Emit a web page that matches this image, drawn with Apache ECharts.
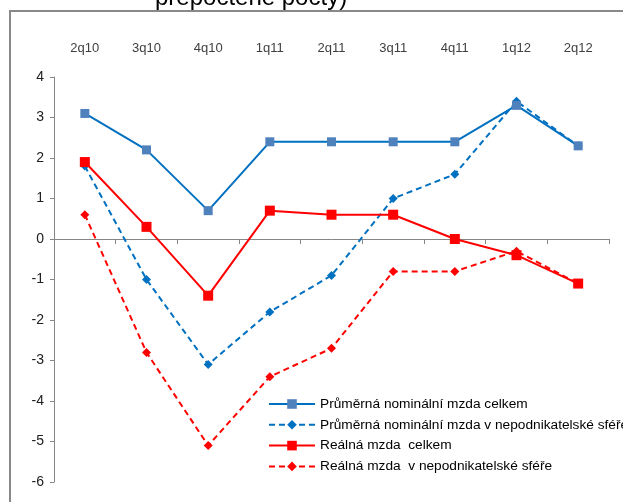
<!DOCTYPE html>
<html>
<head>
<meta charset="utf-8">
<script src="https://cdn.jsdelivr.net/npm/echarts@6/dist/echarts.min.js"></script>
<style>
    html, body { margin: 0; padding: 0; background: #fff; }
    #chart { width: 623px; height: 502px; }
</style>
</head>
<body>
<div id="chart"></div>
<script>
var categories = ['2q10', '3q10', '4q10', '1q11', '2q11', '3q11', '4q11', '1q12', '2q12'];
var nominalTotal = [3.1, 2.2, 0.7, 2.4, 2.4, 2.4, 2.4, 3.3, 2.3];
var nominalPublic = [1.8, -1.0, -3.1, -1.8, -0.9, 1.0, 1.6, 3.4, 2.3];
var realTotal = [1.9, 0.3, -1.4, 0.7, 0.6, 0.6, 0.0, -0.4, -1.1];
var realPublic = [0.6, -2.8, -5.1, -3.4, -2.7, -0.8, -0.8, -0.3, -1.1];
var seriesNames = [
    'Průměrná nominální mzda celkem',
    'Průměrná nominální mzda v nepodnikatelské sféře',
    'Reálná mzda  celkem',
    'Reálná mzda  v nepodnikatelské sféře'
];

var FONT = '"Liberation Sans", Arial, sans-serif';
var BLUE = '#0070C0';
var RED = '#FF0000';

var chart = echarts.init(document.getElementById('chart'));

var option = {
    animation: false,
    backgroundColor: '#fff',
    textStyle: { fontFamily: FONT },
    graphic: [
        {
            type: 'rect',
            shape: { x: 10, y: 11, width: 700, height: 600 },
            style: { fill: 'none', stroke: '#898989', lineWidth: 2 }
        },
        {
            type: 'text',
            x: 155,
            y: -1.5,
            style: {
                text: 'přepočtené počty)',
                font: '24px ' + FONT,
                fill: '#000',
                verticalAlign: 'middle'
            }
        }
    ],
    grid: { left: 54, right: 14, top: 77, bottom: 20, containLabel: false },
    legend: {
        orient: 'vertical',
        left: 263,
        top: 392,
        itemWidth: 46,
        itemHeight: 12,
        itemGap: 6.8,
        textStyle: { fontSize: 13.7, color: '#000', fontFamily: FONT },
        data: seriesNames
    },
    xAxis: [
        {
            type: 'category',
            data: categories,
            boundaryGap: true,
            axisLine: { onZero: true, lineStyle: { color: '#868686', width: 1 } },
            axisTick: { show: true, length: 5, lineStyle: { color: '#868686' } },
            axisLabel: { show: false }
        },
        {
            type: 'category',
            data: categories,
            position: 'top',
            boundaryGap: true,
            axisLine: { show: false },
            axisTick: { show: false },
            axisLabel: { margin: 22, fontSize: 13, color: '#404040', fontFamily: FONT }
        }
    ],
    yAxis: {
        type: 'value',
        min: -6,
        max: 4,
        interval: 1,
        splitLine: { show: false },
        axisLine: { show: true, lineStyle: { color: '#868686', width: 1 } },
        axisTick: { show: true, length: 4, lineStyle: { color: '#868686' } },
        axisLabel: { fontSize: 14, color: '#202020', margin: 10, fontFamily: FONT }
    },
    series: [
        {
            name: seriesNames[0],
            type: 'line',
            data: nominalTotal,
            symbol: 'rect',
            symbolSize: 9,
            lineStyle: { color: BLUE, width: 2 },
            itemStyle: { color: '#4F81BD' },
            z: 4
        },
        {
            name: seriesNames[1],
            type: 'line',
            data: nominalPublic,
            symbol: 'diamond',
            symbolSize: 9,
            lineStyle: { color: BLUE, width: 2, type: [6, 4] },
            itemStyle: { color: BLUE },
            z: 3
        },
        {
            name: seriesNames[2],
            type: 'line',
            data: realTotal,
            symbol: 'rect',
            symbolSize: 10,
            lineStyle: { color: RED, width: 2 },
            itemStyle: { color: RED },
            z: 4
        },
        {
            name: seriesNames[3],
            type: 'line',
            data: realPublic,
            symbol: 'diamond',
            symbolSize: 9,
            lineStyle: { color: RED, width: 2, type: [6, 4] },
            itemStyle: { color: RED },
            z: 3
        }
    ]
};

chart.setOption(option);
</script>
</body>
</html>
